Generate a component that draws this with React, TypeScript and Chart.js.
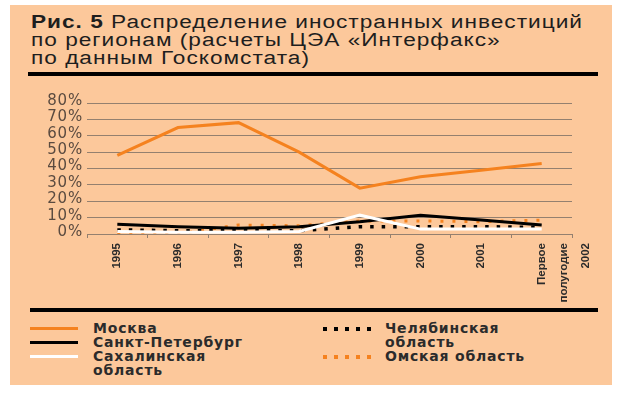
import React, { useEffect, useLayoutEffect, useRef } from "react";
import { Chart, registerables } from "chart.js";

Chart.register(...registerables);

const categories: (string | string[])[] = [
  "1995",
  "1996",
  "1997",
  "1998",
  "1999",
  "2000",
  "2001",
  ["Первое", "полугодие", "2002"],
];

const moscow = [48, 65, 68, 50, 28, 35, 39, 43];
const spb = [6, 4.5, 3.5, 4.5, 7.5, 11.5, 8.5, 5.5];
const sakhalin = [1.5, 1, 1, 1.5, 11.5, 3, 3, 3];
const chelyabinsk = [2.5, 2, 2, 2, 4.5, 4.5, 4.5, 4];
const omsk = [0, 0, 5.5, 5, 8, 8, 7.5, 8.5];

const yTicks = [0, 10, 20, 30, 40, 50, 60, 70, 80];

const titleBold = "Рис. 5";
const titleLines = [
  " Распределение иностранных инвестиций",
  "по регионам (расчеты ЦЭА «Интерфакс»",
  "по данным Госкомстата)",
];

const ORANGE = "#f5821f";
const GRID = "#94806f";
const PANEL = "#fcc89b";

const legendLeft = [
  { label: "Москва", color: ORANGE, dash: false },
  { label: "Санкт-Петербург", color: "#000000", dash: false },
  { label: "Сахалинская\nобласть", color: "#ffffff", dash: false },
];
const legendRight = [
  { label: "Челябинская\nобласть", color: "#000000", dash: true },
  { label: "Омская область", color: ORANGE, dash: true },
];

const legendFont: React.CSSProperties = {
  fontFamily: "'DejaVu Sans', sans-serif",
  fontWeight: "bold",
  fontSize: 14,
  letterSpacing: 0.8,
  lineHeight: "14px",
  color: "#2b2b2b",
  whiteSpace: "pre",
};

function Swatch({ color, dash }: { color: string; dash: boolean }) {
  if (!dash) {
    return <div style={{ width: 48, height: 3, background: color, marginTop: 6 }} />;
  }
  const dots = [0, 1, 2, 3, 4];
  return (
    <div style={{ width: 52, height: 4, marginTop: 6, position: "relative" }}>
      {dots.map((i) => (
        <div
          key={i}
          style={{
            position: "absolute",
            left: i * 11,
            top: 0,
            width: 3.5,
            height: 3.5,
            background: color,
          }}
        />
      ))}
    </div>
  );
}

const yLabelPlugin = {
  id: "yLabels",
  afterDraw(chart: any) {
    const ctx = chart.ctx as CanvasRenderingContext2D;
    const scale = chart.scales.y;
    ctx.save();
    ctx.font = "15px 'DejaVu Sans', sans-serif";
    ctx.fillStyle = "#5b4b40";
    ctx.textAlign = "right";
    ctx.textBaseline = "middle";
    (ctx as any).letterSpacing = "0.8px";
    const right = chart.chartArea.left - 5 + 1;
    for (const v of yTicks) {
      ctx.fillText(v + "%", right, scale.getPixelForValue(v) - 2);
    }
    ctx.restore();
  },
};

export default function App() {
  const ref = useRef<HTMLCanvasElement | null>(null);
  const titleRef = useRef<HTMLDivElement | null>(null);
  const firstLineRef = useRef<HTMLDivElement | null>(null);

  useLayoutEffect(() => {
    if (!titleRef.current || !firstLineRef.current) return;
    const w = firstLineRef.current.getBoundingClientRect().width;
    if (w > 0) {
      titleRef.current.style.transform = `scaleX(${552 / w})`;
    }
  }, []);

  useEffect(() => {
    if (!ref.current) return;
    const chart = new Chart(ref.current, {
      type: "line",
      data: {
        labels: categories,
        datasets: [
          {
            label: "Москва",
            data: moscow,
            borderColor: ORANGE,
            borderWidth: 3,
            pointRadius: 0,
            tension: 0,
          },
          {
            label: "Сахалинская область",
            data: sakhalin,
            borderColor: "#ffffff",
            borderWidth: 3,
            pointRadius: 0,
            tension: 0,
          },
          {
            label: "Санкт-Петербург",
            data: spb,
            borderColor: "#000000",
            borderWidth: 3,
            pointRadius: 0,
            tension: 0,
          },
          {
            label: "Челябинская область",
            data: chelyabinsk,
            borderColor: "#000000",
            borderWidth: 3.5,
            borderDash: [3.5, 8],
            pointRadius: 0,
            tension: 0,
          },
          {
            label: "Омская область",
            data: omsk,
            borderColor: ORANGE,
            borderWidth: 3,
            borderDash: [3, 9],
            pointRadius: 0,
            tension: 0,
          },
        ],
      },
      options: {
        animation: false,
        responsive: false,
        maintainAspectRatio: false,
        layout: { padding: { top: 15, right: 18, left: 0, bottom: 0 } },
        plugins: {
          legend: { display: false },
          tooltip: { enabled: false },
          title: { display: false },
        },
        scales: {
          x: {
            type: "category",
            offset: true,
            grid: {
              offset: true,
              drawOnChartArea: false,
              drawTicks: true,
              tickLength: 4,
              color: GRID,
            },
            border: { display: true, color: GRID, width: 1 },
            ticks: {
              autoSkip: false,
              minRotation: 90,
              maxRotation: 90,
              padding: 5,
              color: "#2b2b2b",
              font: { family: "'Liberation Sans', Arial, sans-serif", size: 11.5, weight: "bold", lineHeight: 1.9 },
            },
            afterFit: (scale: any) => {
              scale.height = 71;
              scale.paddingLeft = 0;
              scale.paddingRight = 0;
            },
          },
          y: {
            min: 0,
            max: 80,
            afterBuildTicks: (scale: any) => {
              scale.ticks = yTicks.map((v) => ({ value: v }));
            },
            grid: { color: GRID, lineWidth: 1, drawTicks: false },
            border: { display: false },
            ticks: { display: false, autoSkip: false },
            afterFit: (scale: any) => {
              scale.width = 57;
              scale.paddingTop = 0;
              scale.paddingBottom = 0;
            },
          },
        },
      },
      plugins: [yLabelPlugin],
    });
    return () => chart.destroy();
  }, []);

  return (
    <div style={{ position: "absolute", left: 0, top: 0, width: 624, height: 396, background: "#ffffff", overflow: "hidden" }}>
      <div style={{ position: "absolute", left: 10, top: 5, width: 602, height: 380, background: PANEL }} />
      <div
        ref={titleRef}
        style={{
          position: "absolute",
          left: 31,
          top: 13,
          fontFamily: "'Liberation Sans', Arial, sans-serif",
          fontSize: 18,
          lineHeight: "18px",
          color: "#1e1e1e",
          letterSpacing: 0.8,
          whiteSpace: "pre",
          transformOrigin: "0 0",
        }}
      >
        <div ref={firstLineRef} style={{ display: "inline-block" }}>
          <span style={{ fontWeight: "bold" }}>{titleBold}</span>
          {titleLines[0]}
        </div>
        <div>{titleLines[1]}</div>
        <div>{titleLines[2]}</div>
      </div>
      <div style={{ position: "absolute", left: 28, top: 72, width: 570, height: 4, background: "#000" }} />
      <canvas
        ref={ref}
        width={560}
        height={217}
        style={{ position: "absolute", left: 30, top: 88, width: 560, height: 217 }}
      />
      <div style={{ position: "absolute", left: 30, top: 308, width: 568, height: 4, background: "#000" }} />
      <div style={{ position: "absolute", left: 30, top: 321 }}>
        {legendLeft.map((it, i) => (
          <div key={i} style={{ display: "flex", alignItems: "flex-start" }}>
            <div style={{ width: 63 }}>
              <Swatch color={it.color} dash={it.dash} />
            </div>
            <div style={legendFont}>{it.label}</div>
          </div>
        ))}
      </div>
      <div style={{ position: "absolute", left: 323, top: 321 }}>
        {legendRight.map((it, i) => (
          <div key={i} style={{ display: "flex", alignItems: "flex-start" }}>
            <div style={{ width: 62 }}>
              <Swatch color={it.color} dash={it.dash} />
            </div>
            <div style={legendFont}>{it.label}</div>
          </div>
        ))}
      </div>
    </div>
  );
}
